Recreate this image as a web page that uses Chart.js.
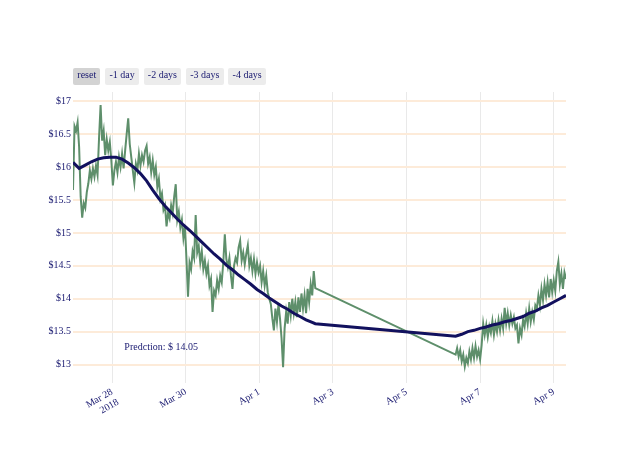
<!DOCTYPE html>
<html>
<head>
<meta charset="utf-8">
<script src="https://cdn.jsdelivr.net/npm/chart.js@4/dist/chart.umd.min.js"></script>
<style>
  html, body { margin: 0; padding: 0; background: #ffffff; }
  #wrap { position: relative; width: 640px; height: 457px; }
  #c { position: absolute; left: 0; top: 0; }
  #btns { position: absolute; left: 73px; top: 68px; display: flex; gap: 4.6px; }
  .btn { height: 16px; line-height: 16px; padding: 1px 4.3px 0 4.3px; background: #ececec; border-radius: 2px;
         font: 10px "Liberation Serif", "Times New Roman", serif; color: #191970; white-space: nowrap; }
  .btn.active { background: #d3d3d3; }
</style>
</head>
<body>
<div id="wrap">
  <canvas id="c" width="640" height="457"></canvas>
  <div id="btns"></div>
</div>
<script>
// ---- data (hours relative to 2018-03-28 00:00) ----
const rangeButtons = ['reset', '-1 day', '-2 days', '-3 days', '-4 days'];

const priceSeg1StartHour = -25.5;   // first sample of first block
const priceSeg2StartHour = 224;     // first sample of second block
const priceSampleHours = 1;         // sampling interval of the price series

const priceSeg1 = [
  15.65, 16.62, 16.55, 16.68, 16.30, 15.55, 15.23, 15.45, 15.38, 15.62,
  15.75, 15.95, 15.82, 15.98, 15.85, 16.02, 15.88, 16.45, 16.94, 16.40,
  16.55, 16.18, 16.42, 16.25, 16.38, 16.10, 15.72, 15.95, 16.08, 15.92,
  16.15, 16.00, 16.20, 15.98, 16.25, 16.50, 16.74, 16.35, 16.15, 15.95,
  15.76, 16.05, 15.95, 16.20, 16.02, 16.18, 16.08, 16.25, 16.32, 16.05,
  16.15, 15.92, 16.10, 15.88, 16.00, 15.70, 15.82, 15.52, 15.60, 15.35,
  15.42, 15.10, 15.30, 15.22, 15.42, 15.30, 15.55, 15.74, 15.20, 15.32,
  15.08, 15.20, 14.92, 15.10, 14.60, 14.03, 14.55, 14.45, 14.72, 14.62,
  15.27, 14.70, 14.80, 14.55, 14.72, 14.45, 14.58, 14.38, 14.50, 14.20,
  14.30, 13.80, 14.12, 14.05, 14.28, 14.15, 14.35, 14.25, 14.55, 14.98,
  14.60, 14.48, 14.62, 14.35, 14.15, 14.50, 14.62, 14.55, 14.78, 14.88,
  14.58, 14.70, 14.52, 14.68, 14.81, 14.50, 14.62, 14.42, 14.60, 14.38,
  14.55, 14.40, 14.50, 14.25, 14.42, 14.20, 14.35, 14.10, 14.00, 13.92,
  13.70, 13.52, 13.85, 13.65, 13.92, 13.70, 13.40, 12.96, 13.55, 13.80,
  13.62, 13.95, 13.75, 14.00, 13.78, 13.95, 13.72, 14.02, 13.80, 14.08,
  13.85, 14.05, 13.78, 14.15, 13.95, 14.22, 14.05, 14.42, 14.16
];

const priceSeg2 = [
  13.15, 13.25, 13.12, 13.22, 13.05, 13.15, 12.97, 13.10, 13.02, 13.20,
  13.08, 13.25, 13.10, 13.28, 13.12, 13.22, 13.08, 13.30, 13.62, 13.45,
  13.60, 13.42, 13.58, 13.48, 13.66, 13.45, 13.62, 13.50, 13.68, 13.52,
  13.70, 13.55, 13.86, 13.62, 13.78, 13.60, 13.75, 13.62, 13.72, 13.55,
  13.60, 13.32, 13.55, 13.45, 13.68, 13.58, 13.78, 13.62, 13.85, 13.65,
  13.80, 13.68, 13.90, 13.85, 14.05, 13.90, 14.15, 13.98, 14.22, 14.05,
  14.25, 14.02, 14.30, 14.10, 14.28, 14.12, 14.42, 14.56, 14.22, 14.38,
  14.15, 14.40, 14.30
];

const trendHours = [
  -25.5, -21.5, -17.5, -13.5, -9.5, -5.5, -1.5, 2.5, 6.5, 10.5,
  14.5, 18.5, 22.5, 26.5, 30.5, 34.5, 38.5, 42.5, 46.5, 50.5,
  54.5, 58.5, 62.5, 66.5, 70.5, 74.5, 78.5, 82.5, 86.5, 90.5,
  94.5, 98.5, 102.5, 106.5, 110.5, 114.5, 118.5, 122.5, 126.5, 130.5,
  132.5,
  224, 228, 232, 236, 240, 244, 248, 252, 256, 260,
  264, 268, 272, 276, 280, 284, 288, 292, 296
];
const trendValues = [
  16.07, 15.98, 16.03, 16.08, 16.12, 16.14, 16.15, 16.15, 16.12, 16.06,
  15.99, 15.90, 15.79, 15.65, 15.52, 15.41, 15.31, 15.21, 15.12, 15.04,
  14.95, 14.86, 14.77, 14.68, 14.60, 14.51, 14.44, 14.36, 14.29, 14.22,
  14.14, 14.08, 14.01, 13.95, 13.89, 13.84, 13.78, 13.73, 13.68, 13.64,
  13.62,
  13.43, 13.46, 13.50, 13.52, 13.55, 13.57, 13.60, 13.62, 13.65, 13.67,
  13.70, 13.73, 13.78, 13.81, 13.86, 13.90, 13.95, 14.00, 14.05
];

const xTickHours = [0, 48, 96, 144, 192, 240, 288];
const xTickLabels = [['Mar 28', '2018'], 'Mar 30', 'Apr 1', 'Apr 3', 'Apr 5', 'Apr 7', 'Apr 9'];
const yTickValues = [13, 13.5, 14, 14.5, 15, 15.5, 16, 16.5, 17];
const yTickLabels = ['$13', '$13.5', '$14', '$14.5', '$15', '$15.5', '$16', '$16.5', '$17'];

const annotationText = 'Predction: $ 14.05';
const annotationHour = 32;
const annotationValue = 13.26;

// ---- styles ----
const textColor = '#191970';
const fontFamily = '"Liberation Serif", "Times New Roman", serif';

// ---- buttons ----
const btnBox = document.getElementById('btns');
rangeButtons.forEach((t, i) => {
  const d = document.createElement('div');
  d.className = 'btn' + (i === 0 ? ' active' : '');
  d.textContent = t;
  btnBox.appendChild(d);
});

// ---- build point tables ----
const pricePoints = [];
priceSeg1.forEach((v, i) => pricePoints.push({ x: priceSeg1StartHour + i * priceSampleHours, y: v }));
priceSeg2.forEach((v, i) => pricePoints.push({ x: priceSeg2StartHour + i * priceSampleHours, y: v }));
const trendPoints = trendHours.map((h, i) => ({ x: h, y: trendValues[i] }));

const annotationPlugin = {
  id: 'predLabel',
  afterDatasetsDraw(chart) {
    const { ctx, scales: { x, y } } = chart;
    ctx.save();
    ctx.font = '10px ' + fontFamily;
    ctx.fillStyle = textColor;
    ctx.textAlign = 'center';
    ctx.textBaseline = 'middle';
    ctx.fillText(annotationText, x.getPixelForValue(annotationHour), y.getPixelForValue(annotationValue));
    ctx.restore();
  }
};

new Chart(document.getElementById('c'), {
  type: 'line',
  data: {
    datasets: [
      { label: 'trend', data: trendPoints, borderColor: '#12115e', borderWidth: 3,
        pointRadius: 0, tension: 0, fill: false, order: 0 },
      { label: 'price', data: pricePoints, borderColor: '#5e8f6b', borderWidth: 2,
        pointRadius: 0, tension: 0, fill: false, order: 1 }
    ]
  },
  options: {
    responsive: false,
    animation: false,
    devicePixelRatio: 1,
    layout: { padding: { top: 92, right: 74, left: 0, bottom: 0 } },
    plugins: { legend: { display: false }, tooltip: { enabled: false } },
    scales: {
      x: {
        type: 'linear',
        min: priceSeg1StartHour,
        max: priceSeg2StartHour + (priceSeg2.length - 1) * priceSampleHours,
        afterBuildTicks: (axis) => { axis.ticks = xTickHours.map(v => ({ value: v })); },
        afterFit: (scale) => { scale.height = 74; },
        border: { display: false },
        grid: { color: '#e9e9e9', lineWidth: 1, drawTicks: false },
        ticks: {
          autoSkip: false, minRotation: 30, maxRotation: 30, padding: 3,
          color: textColor, font: { family: fontFamily, size: 10 },
          callback: (v) => { const k = xTickHours.indexOf(v); return k >= 0 ? xTickLabels[k] : ''; }
        }
      },
      y: {
        min: 12.72,
        max: 17.14,
        afterBuildTicks: (axis) => { axis.ticks = yTickValues.map(v => ({ value: v })); },
        afterFit: (scale) => { scale.width = 73; },
        border: { display: false },
        grid: { color: '#fdebd9', lineWidth: 2, drawTicks: false },
        ticks: {
          padding: 2, color: textColor, font: { family: fontFamily, size: 10 },
          callback: (v) => { const k = yTickValues.indexOf(v); return k >= 0 ? yTickLabels[k] : ''; }
        }
      }
    }
  },
  plugins: [annotationPlugin]
});
</script>
</body>
</html>
